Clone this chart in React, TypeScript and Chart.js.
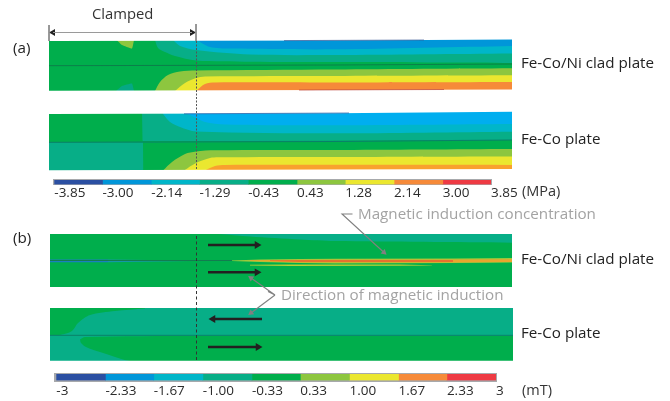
import React, { useEffect, useRef } from "react";
import { Chart, registerables } from "chart.js";

Chart.register(...registerables);

type Pt = [number, number];

const FONT = '"Open Sans", sans-serif';

// ---- colour levels ----
const NAVY = "#2b4fa2";
const BLUE = "#0096d9";
const SKY = "#00aeef";
const CYAN = "#00b6c9";
const TEAL = "#07ae87";
const GREEN = "#00ae4c";
const LIME = "#8dc63f";
const YELLOW = "#ebe72f";
const ORANGE = "#f68a39";
const AMBER = "#f9a12e";
const RED = "#ee3a43";

// ---- colour bars ----
const stressEdges = [-3.85, -3.0, -2.14, -1.29, -0.43, 0.43, 1.28, 2.14, 3.0, 3.85];
const stressLabels = ["-3.85", "-3.00", "-2.14", "-1.29", "-0.43", "0.43", "1.28", "2.14", "3.00", "3.85"];
const inductionEdges = [-3, -2.33, -1.67, -1.0, -0.33, 0.33, 1.0, 1.67, 2.33, 3];
const inductionLabels = ["-3", "-2.33", "-1.67", "-1.00", "-0.33", "0.33", "1.00", "1.67", "2.33", "3"];
const levelColors = [NAVY, BLUE, CYAN, TEAL, GREEN, LIME, YELLOW, ORANGE, RED];

// ---- (a) Fe-Co/Ni clad plate: stress contours (distance along plate, height) ----
const a1TopEdge: Pt[] = [[0, 52], [286, 52.5], [463, 53.5]];
const a1BottomEdge: Pt[] = [[0, 2.3], [463, 3.5]];
const a1Teal: Pt[] = [[106, 53], [109, 45], [116, 41], [126, 37], [147, 32.5], [201, 31.3], [286, 31], [390, 30.5], [463, 30]];
const a1Cyan: Pt[] = [[124, 53], [131, 47], [147, 43], [201, 38.5], [286, 38], [463, 39.5]];
const a1Blue: Pt[] = [[146, 54], [161, 46], [181, 44.5], [286, 43.7], [463, 47]];
const a1Lime: Pt[] = [[106, 2], [111, 11], [119, 18], [131, 21.5], [147, 22.5], [286, 23.5], [463, 24.7]];
const a1Yellow: Pt[] = [[126, 2], [136, 10], [147, 15], [156, 16.5], [286, 17], [463, 17.7]];
const a1Orange: Pt[] = [[147, 2], [156, 9], [166, 10.5], [286, 10.5], [463, 11]];
const a1Mid: Pt[] = [[0, 27.3], [286, 28], [463, 29]];
const a1BlobTop: Pt[] = [[67.7, 53], [73, 48], [83, 44.5], [85, 53]];
const a1BlobBottom: Pt[] = [[67, 2], [73, 7], [83, 9.5], [85, 2]];
const a1NavyEdge: Pt[] = [[235, 52.4], [375, 53]];
const a1RedEdge: Pt[] = [[250, 3], [395, 3.5]];

// ---- (a) Fe-Co plate ----
const a2TopEdge: Pt[] = [[0, 59], [286, 59.7], [463, 61.3]];
const a2BottomEdge: Pt[] = [[0, 2.7], [463, 3.9]];
const a2TealTop: Pt[] = [[93, 62], [93.5, 32.5], [94, 32], [201, 32], [463, 33]];
const a2TealBottom: Pt[] = [[0, 30.5], [94, 30.5], [94.5, 0]];
const a2Cyan: Pt[] = [[114, 59], [121, 51], [131, 46], [147, 41.5], [284, 39.7], [463, 41.3]];
const a2Sky: Pt[] = [[137, 60], [147, 55], [156, 51], [176, 48.5], [284, 47.7], [463, 49]];
const a2Lime: Pt[] = [[114, 2.5], [123, 11], [136, 19], [147, 21.5], [166, 22.7], [284, 23], [463, 24]];
const a2Yellow: Pt[] = [[135, 2.5], [147, 10], [161, 15], [169, 15.7], [284, 16], [463, 16.5]];
const a2Amber: Pt[] = [[156, 2.5], [166, 7], [176, 8], [463, 8]];
const a2Mid: Pt[] = [[0, 30.7], [284, 31.5], [463, 33]];
const a2NavyEdge: Pt[] = [[135, 59.2], [300, 60]];

// ---- (b) Fe-Co/Ni clad plate: induction contours ----
const b1TopEdge: Pt[] = [[0, 56], [462, 56]];
const b1BottomEdge: Pt[] = [[0, 3], [462, 3]];
const b1Teal: Pt[] = [[168, 56], [200, 53.5], [250, 50.5], [285, 49], [462, 47.3]];
const b1BlueStripeTop: Pt[] = [[0, 30.5], [58, 30.5]];
const b1BlueStripeBottom: Pt[] = [[0, 27.7], [58, 27.7]];
const b1TealStripeTop: Pt[] = [[58, 30.5], [140, 29.6]];
const b1TealStripeBottom: Pt[] = [[58, 27.7], [140, 29]];
const b1LimeTop: Pt[] = [[182, 29.5], [210, 30.5], [250, 31], [285, 31.2], [403, 31.5], [462, 32]];
const b1LimeBottom: Pt[] = [[182, 29], [210, 28], [250, 27], [285, 26.5], [403, 27], [462, 27.5]];
const b1AmberTop: Pt[] = [[200, 29.7], [250, 30.2], [403, 30.5], [462, 30.7]];
const b1AmberBottom: Pt[] = [[200, 29], [250, 27.5], [403, 27.5], [462, 28]];
const b1OrangeTop: Pt[] = [[220, 29.7], [250, 30], [403, 30]];
const b1OrangeBottom: Pt[] = [[220, 29], [250, 28], [403, 28]];
const b1LowerTop: Pt[] = [[200, 25.2], [240, 25.4], [350, 25.4], [382, 24.8]];
const b1LowerBottom: Pt[] = [[200, 24.6], [240, 24], [350, 24.2], [382, 24.6]];
const b1Mid: Pt[] = [[0, 29.5], [182, 29.5]];

// ---- (b) Fe-Co plate ----
const b2TopEdge: Pt[] = [[0, 55], [463, 55]];
const b2BottomEdge: Pt[] = [[0, 2.3], [463, 2.3]];
const b2GreenTop: Pt[] = [[0, 28], [10, 28], [22, 32], [28, 40], [40, 48], [65, 52], [95, 54.5]];
const b2GreenBottom: Pt[] = [[30, 23.5], [35, 26], [150, 27], [463, 27]];
const b2TealBottom: Pt[] = [[30, 23.5], [31, 20], [36, 16], [50, 11], [73, 3.5], [85, 1]];
const b2Mid: Pt[] = [[0, 27.7], [463, 27.7]];

// ---- annotation lines, in page units ----
const clampLeft: Pt[] = [[49, 25], [49, 41]];
const clampRight: Pt[] = [[196, 24], [196, 41]];
const clampSpan: Pt[] = [[53, 32.5], [192, 32.5]];
const clampDotsA: Pt[] = [[196.5, 41], [196.5, 170]];
const clampDotsB: Pt[] = [[196.5, 236], [196.5, 361]];
const arrowB1Upper: Pt[] = [[208, 245], [257, 245]];
const arrowB1Lower: Pt[] = [[208, 272.3], [257, 272.3]];
const arrowB2Upper: Pt[] = [[213, 319], [262, 319]];
const arrowB2Lower: Pt[] = [[208, 347], [258, 347]];
const leaderConcentration: Pt[] = [[352.5, 214], [342, 214], [384, 252.5]];
const leaderDirectionUp: Pt[] = [[268, 291.5], [275, 295], [251, 278]];
const leaderDirectionDown: Pt[] = [[275, 295], [251, 313]];

const labels = [
  { text: "Clamped", x: 92, y: 13, color: "#333", size: 14.8 },
  { text: "(a)", x: 13, y: 47, color: "#222", size: 15.2 },
  { text: "(b)", x: 13, y: 237, color: "#222", size: 15.2 },
  { text: "Fe-Co/Ni clad plate", x: 521, y: 62, color: "#222", size: 15.2 },
  { text: "Fe-Co plate", x: 521, y: 137.5, color: "#222", size: 15.2 },
  { text: "Fe-Co/Ni clad plate", x: 521, y: 258, color: "#222", size: 15.2 },
  { text: "Fe-Co plate", x: 521, y: 332, color: "#222", size: 15.2 },
  { text: "(MPa)", x: 522, y: 191, color: "#333", size: 14.5 },
  { text: "(mT)", x: 522, y: 390, color: "#333", size: 14.5 },
  { text: "Magnetic induction concentration", x: 358, y: 213, color: "#a3a3a3", size: 15.2 },
  { text: "Direction of magnetic induction", x: 281, y: 294, color: "#a3a3a3", size: 15.2 },
];

// ---- helpers ----
type Layer = {
  pts: Pt[];
  color: string;
  fill?: "start" | "end";
  lower?: Pt[];
  stroke?: number;
  tension?: number;
};

const toXY = (p: Pt[]) => p.map(([x, y]) => ({ x, y }));

function panelConfig(w: number, h: number, background: string, layers: Layer[]) {
  const datasets: any[] = [];
  const plate: Layer = { pts: [[0, h], [w, h]], color: background, fill: "start", tension: 0 };
  for (const l of [plate, ...layers]) {
    const base = {
      pointRadius: 0,
      tension: l.tension ?? 0.3,
      borderWidth: l.stroke ?? 0,
      borderColor: l.color,
      backgroundColor: l.color,
      data: toXY(l.pts),
    };
    if (l.lower) {
      datasets.push({ ...base, fill: { target: datasets.length + 1 } });
      datasets.push({ ...base, data: toXY(l.lower), fill: false });
    } else {
      datasets.push({ ...base, fill: l.fill ?? false });
    }
  }
  datasets.forEach((d, i) => (d.order = datasets.length - i));
  return {
    type: "line",
    data: { datasets },
    options: {
      animation: false,
      responsive: false,
      events: [],
      layout: { padding: 0, autoPadding: false },
      plugins: { legend: { display: false }, tooltip: { enabled: false } },
      scales: {
        x: { type: "linear", display: false, min: 0, max: w },
        y: { type: "linear", display: false, min: 0, max: h },
      },
    },
  };
}

function barConfig(edges: number[], tickLabels: string[], padLeft: number, padRight: number, tickPad: number) {
  const TICK_SIZE = 13.5;
  return {
    type: "bar",
    data: {
      labels: ["level"],
      datasets: levelColors.map((c, i) => ({
        data: [[edges[i], edges[i + 1]]],
        backgroundColor: c,
        barPercentage: 1,
        categoryPercentage: 1,
        grouped: false,
      })),
    },
    options: {
      animation: false,
      responsive: false,
      events: [],
      indexAxis: "y",
      layout: { padding: { left: padLeft, right: padRight, top: 0, bottom: 0 }, autoPadding: false },
      plugins: { legend: { display: false }, tooltip: { enabled: false } },
      scales: {
        x: {
          type: "linear",
          min: edges[0],
          max: edges[edges.length - 1],
          grid: { display: false, drawTicks: false },
          border: { display: false },
          afterBuildTicks: (s: any) => {
            s.ticks = edges.map((value) => ({ value }));
          },
          afterFit: (s: any) => {
            s.height = TICK_SIZE + tickPad;
          },
          ticks: {
            autoSkip: false,
            maxRotation: 0,
            minRotation: 0,
            align: "start",
            padding: tickPad,
            color: "#2b2b2b",
            font: { family: FONT, size: TICK_SIZE, lineHeight: 1 },
            callback: (_v: any, i: number) => tickLabels[i],
          },
        },
        y: { display: false },
      },
    },
  };
}

function annotationConfig() {
  const line = (pts: Pt[], color: string, width: number, extra: any = {}) => ({
    data: toXY(pts),
    borderColor: color,
    backgroundColor: color,
    borderWidth: width,
    pointRadius: 0,
    pointBorderWidth: 0,
    fill: false,
    tension: 0,
    ...extra,
  });
  const head = (pts: Pt[], rotation: number, size: number, atStart = false) => ({
    pointStyle: "triangle",
    pointRotation: rotation,
    pointRadius: pts.map((_, i) => ((atStart ? i === 0 : i === pts.length - 1) ? size : 0)),
  });
  return {
    type: "line",
    data: {
      datasets: [
        line(clampLeft, "#8a8a8a", 1),
        line(clampRight, "#8a8a8a", 1),
        line(clampSpan, "#9a9a9a", 1),
        line([clampSpan[0], clampSpan[1]], "rgba(0,0,0,0)", 0, {
          pointStyle: "triangle",
          pointRadius: 4,
          pointBackgroundColor: "#222",
          pointRotation: [270, 90],
        }),
        line(clampDotsA, "#555", 1, { borderDash: [2, 1.5] }),
        line(clampDotsB, "#333", 1, { borderDash: [3, 2.5] }),
        line(arrowB1Upper, "#231f20", 2.4, head(arrowB1Upper, 90, 4.5)),
        line(arrowB1Lower, "#231f20", 2.4, head(arrowB1Lower, 90, 4.5)),
        line(arrowB2Upper, "#231f20", 2.4, head(arrowB2Upper, 270, 4.5, true)),
        line(arrowB2Lower, "#231f20", 2.4, head(arrowB2Lower, 90, 4.5)),
        line(leaderConcentration, "#808080", 1.1, head(leaderConcentration, 132, 3.5)),
        line(leaderDirectionUp, "#808080", 1.1, head(leaderDirectionUp, 305, 3.5)),
        line(leaderDirectionDown, "#808080", 1.1, head(leaderDirectionDown, 233, 3.5)),
      ],
    },
    options: {
      animation: false,
      responsive: false,
      events: [],
      layout: { padding: 0, autoPadding: false },
      plugins: { legend: { display: false }, tooltip: { enabled: false } },
      scales: {
        x: { type: "linear", display: false, min: 0, max: 670 },
        y: { type: "linear", display: false, min: 0, max: 401, reverse: true },
      },
    },
  };
}

const panels = [
  {
    left: 49, top: 38, w: 463, h: 55,
    config: () =>
      panelConfig(463, 55, GREEN, [
        { pts: a1BlobTop, color: LIME, fill: "end", tension: 0.1 },
        { pts: a1BlobBottom, color: "#05a884", fill: "start", tension: 0.1 },
        { pts: a1Teal, color: TEAL, fill: "end" },
        { pts: a1Cyan, color: CYAN, fill: "end" },
        { pts: a1Blue, color: BLUE, fill: "end" },
        { pts: a1Lime, color: LIME, fill: "start" },
        { pts: a1Yellow, color: YELLOW, fill: "start" },
        { pts: a1Orange, color: ORANGE, fill: "start" },
        { pts: a1TopEdge, color: "#ffffff", fill: "end", tension: 0 },
        { pts: a1BottomEdge, color: "#ffffff", fill: "start", tension: 0 },
        { pts: a1Mid, color: "#0b7f4a", stroke: 1, tension: 0 },
        { pts: a1NavyEdge, color: "rgba(60,90,150,0.7)", stroke: 1, tension: 0 },
        { pts: a1RedEdge, color: "rgba(190,70,60,0.7)", stroke: 1, tension: 0 },
      ]),
  },
  {
    left: 49, top: 111, w: 463, h: 62,
    config: () =>
      panelConfig(463, 62, GREEN, [
        { pts: a2TealTop, color: TEAL, fill: "end", tension: 0 },
        { pts: a2TealBottom, color: TEAL, fill: "start", tension: 0 },
        { pts: a2Cyan, color: CYAN, fill: "end" },
        { pts: a2Sky, color: SKY, fill: "end" },
        { pts: a2Lime, color: LIME, fill: "start" },
        { pts: a2Yellow, color: YELLOW, fill: "start" },
        { pts: a2Amber, color: AMBER, fill: "start" },
        { pts: a2TopEdge, color: "#ffffff", fill: "end", tension: 0 },
        { pts: a2BottomEdge, color: "#ffffff", fill: "start", tension: 0 },
        { pts: a2Mid, color: "#0a7f6a", stroke: 1, tension: 0 },
        { pts: a2NavyEdge, color: "rgba(40,90,160,0.7)", stroke: 1, tension: 0 },
      ]),
  },
  {
    left: 50, top: 231, w: 462, h: 59,
    config: () =>
      panelConfig(462, 59, GREEN, [
        { pts: b1Teal, color: TEAL, fill: "end" },
        { pts: b1BlueStripeTop, lower: b1BlueStripeBottom, color: "#1b7fbf", tension: 0 },
        { pts: b1TealStripeTop, lower: b1TealStripeBottom, color: "#1597a8", tension: 0 },
        { pts: b1LimeTop, lower: b1LimeBottom, color: "#9cc93c", tension: 0 },
        { pts: b1AmberTop, lower: b1AmberBottom, color: "#e8a52e", tension: 0 },
        { pts: b1OrangeTop, lower: b1OrangeBottom, color: "#e8702e", tension: 0 },
        { pts: b1LowerTop, lower: b1LowerBottom, color: "#b5d334", tension: 0 },
        { pts: b1TopEdge, color: "#ffffff", fill: "end", tension: 0 },
        { pts: b1BottomEdge, color: "#ffffff", fill: "start", tension: 0 },
        { pts: b1Mid, color: "#137c50", stroke: 1, tension: 0 },
      ]),
  },
  {
    left: 50, top: 305, w: 463, h: 58,
    config: () =>
      panelConfig(463, 58, TEAL, [
        { pts: b2GreenTop, color: GREEN, fill: "end" },
        { pts: b2GreenBottom, color: GREEN, fill: "start" },
        { pts: b2TealBottom, color: TEAL, fill: "start" },
        { pts: b2TopEdge, color: "#ffffff", fill: "end", tension: 0 },
        { pts: b2BottomEdge, color: "#ffffff", fill: "start", tension: 0 },
        { pts: b2Mid, color: "#0a8068", stroke: 1, tension: 0 },
      ]),
  },
];

const bars = [
  { left: 40, top: 180, w: 500, h: 20, frame: { left: 53, top: 179, width: 439, height: 6 }, config: () => barConfig(stressEdges, stressLabels, 14.3, 49, 2) },
  { left: 40, top: 374, w: 500, h: 24, frame: { left: 54, top: 372.7, width: 443, height: 9 }, config: () => barConfig(inductionEdges, inductionLabels, 16.3, 44, 4) },
];

function ChartCanvas({ left, top, w, h, config }: { left: number; top: number; w: number; h: number; config: () => any }) {
  const ref = useRef<HTMLCanvasElement>(null);
  useEffect(() => {
    const chart = new Chart(ref.current as HTMLCanvasElement, config());
    return () => chart.destroy();
  }, []);
  return (
    <canvas
      ref={ref}
      width={w}
      height={h}
      style={{ position: "absolute", left, top, width: w, height: h, display: "block" }}
    />
  );
}

export default function App() {
  return (
    <div style={{ position: "absolute", left: 0, top: 0, width: 670, height: 401, overflow: "hidden", background: "#fff" }}>
      {panels.map((p, i) => (
        <ChartCanvas key={i} left={p.left} top={p.top} w={p.w} h={p.h} config={p.config} />
      ))}
      {bars.map((b, i) => (
        <React.Fragment key={i}>
          <div style={{ position: "absolute", background: "#a7a9ac", ...b.frame }} />
          <ChartCanvas left={b.left} top={b.top} w={b.w} h={b.h} config={b.config} />
        </React.Fragment>
      ))}
      <ChartCanvas left={0} top={0} w={670} h={401} config={annotationConfig} />
      {labels.map((l, i) => (
        <div
          key={i}
          style={{
            position: "absolute",
            left: l.x,
            top: l.y - 10,
            height: 20,
            lineHeight: "20px",
            whiteSpace: "nowrap",
            fontFamily: FONT,
            fontSize: l.size,
            color: l.color,
          }}
        >
          {l.text}
        </div>
      ))}
    </div>
  );
}
